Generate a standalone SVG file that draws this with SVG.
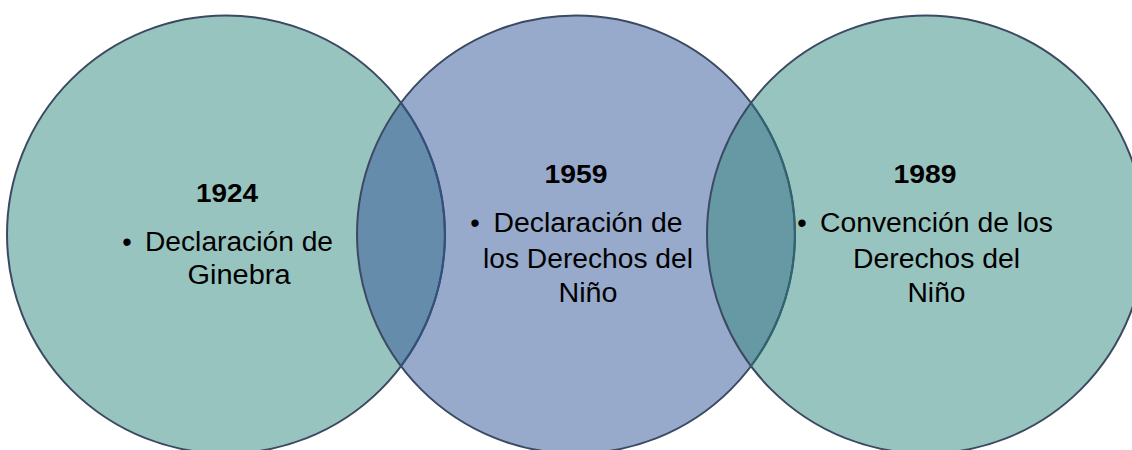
<svg xmlns="http://www.w3.org/2000/svg" width="1132" height="450" viewBox="0 0 1132 450">
<style>
.teal{fill:#98C4BF}
.blue{fill:#97AACB}
.ol{fill:none;stroke:#3B4A62;stroke-width:2}
.yr{font-family:"Liberation Sans",Arial,sans-serif;font-weight:bold;font-size:26px;fill:#000;text-anchor:middle}
.tx{font-family:"Liberation Sans",Arial,sans-serif;font-size:27px;fill:#000;text-anchor:middle}
.bl{font-family:"Liberation Sans",Arial,sans-serif;font-size:27px;fill:#000;text-anchor:middle}
</style>
<rect width="1132" height="450" fill="#FFFFFF"/>
<g id="circle-1924">
<circle cx="226" cy="234.5" r="219" class="teal"/>
</g>
<g id="circle-1959">
<circle cx="576" cy="234.5" r="219" class="blue"/>
</g>
<g id="circle-1989">
<circle cx="926" cy="234.5" r="219" class="teal"/>
</g>
<g id="overlaps">
<path d="M401 103 A219 219 0 0 1 401 366 A219 219 0 0 1 401 103 Z" fill="#668CAB"/>
<path d="M751 103 A219 219 0 0 1 751 366 A219 219 0 0 1 751 103 Z" fill="#6699A3"/>
</g>
<g id="outlines">
<circle cx="226" cy="234.5" r="219" class="ol"/>
<circle cx="576" cy="234.5" r="219" class="ol"/>
<circle cx="926" cy="234.5" r="219" class="ol"/>
<path d="M401 103 A219 219 0 0 1 401 366" fill="none" stroke="#33507F" stroke-width="2"/>
<path d="M751 103 A219 219 0 0 1 751 366" fill="none" stroke="#2F6670" stroke-width="2"/>
</g>
<g id="text-1924">
<text x="227" y="202" class="yr" textLength="62" lengthAdjust="spacingAndGlyphs">1924</text>
<text x="127" y="251" class="bl">•</text>
<text x="239" y="251" class="tx" textLength="188" lengthAdjust="spacingAndGlyphs">Declaración de</text>
<text x="239" y="284" class="tx" textLength="103" lengthAdjust="spacingAndGlyphs">Ginebra</text>
</g>
<g id="text-1959">
<text x="576" y="183" class="yr" textLength="63" lengthAdjust="spacingAndGlyphs">1959</text>
<text x="475" y="232" class="bl">•</text>
<text x="588" y="232" class="tx" textLength="189" lengthAdjust="spacingAndGlyphs">Declaración de</text>
<text x="588" y="268" class="tx" textLength="210" lengthAdjust="spacingAndGlyphs">los Derechos del</text>
<text x="588" y="302" class="tx" textLength="59" lengthAdjust="spacingAndGlyphs">Niño</text>
</g>
<g id="text-1989">
<text x="925" y="183" class="yr" textLength="63" lengthAdjust="spacingAndGlyphs">1989</text>
<text x="802" y="232" class="bl">•</text>
<text x="936.5" y="232" class="tx" textLength="233" lengthAdjust="spacingAndGlyphs">Convención de los</text>
<text x="936.5" y="268" class="tx" textLength="167" lengthAdjust="spacingAndGlyphs">Derechos del</text>
<text x="936.5" y="302" class="tx" textLength="58" lengthAdjust="spacingAndGlyphs">Niño</text>
</g>
</svg>
